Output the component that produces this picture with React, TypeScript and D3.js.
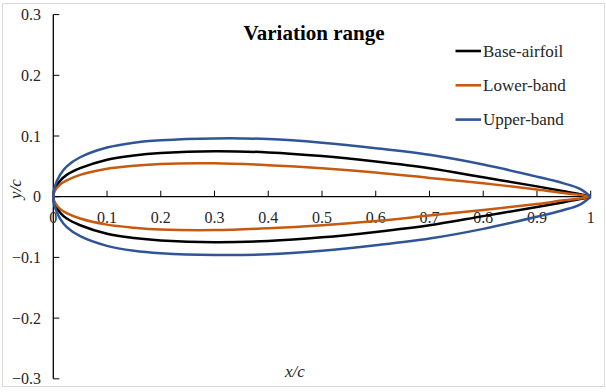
import React from "react";
import * as d3 from "d3";

const stations = [0, 0.0025, 0.0125, 0.025, 0.05, 0.1, 0.15, 0.2, 0.3, 0.4, 0.5, 0.6, 0.7, 0.8, 0.9, 0.95, 0.98, 1];
const baseHalf = [0, 0.012, 0.026, 0.036, 0.047, 0.061, 0.068, 0.072, 0.075, 0.073, 0.067, 0.058, 0.047, 0.032, 0.017, 0.009, 0.004, 0];
const lowerHalf = [0, 0.009, 0.02, 0.027, 0.036, 0.046, 0.051, 0.054, 0.055, 0.052, 0.047, 0.04, 0.031, 0.022, 0.012, 0.006, 0.003, 0];
const upperHalf = [0, 0.016, 0.036, 0.05, 0.065, 0.081, 0.089, 0.093, 0.096, 0.095, 0.089, 0.08, 0.069, 0.053, 0.033, 0.022, 0.013, 0];

const seriesNames = ["Base-airfoil", "Lower-band", "Upper-band"];
const seriesColors = ["#000000", "#C55A11", "#2F5597"];
const seriesData = [baseHalf, lowerHalf, upperHalf];

const xTicks = [0, 0.1, 0.2, 0.3, 0.4, 0.5, 0.6, 0.7, 0.8, 0.9, 1];
const yTicks = [-0.3, -0.2, -0.1, 0, 0.1, 0.2, 0.3];

const W = 606;
const H = 392;
const FONT = "Liberation Serif";
const tStyle = { fontFamily: FONT };

export default function App() {
  const x = d3.scaleLinear().domain([0, 1]).range([53.3, 590.7]);
  const y = d3.scaleLinear().domain([-0.3, 0.3]).range([378.8, 14.6]);

  const line = d3
    .line<[number, number]>()
    .x((d) => x(d[0]))
    .y((d) => y(d[1]))
    .curve(d3.curveCatmullRom.alpha(0.5));

  const closedPts = (half: number[]): [number, number][] => {
    const up: [number, number][] = stations.map((s, i) => [s, half[i]] as [number, number]).reverse();
    const lo: [number, number][] = stations.slice(1).map((s, i) => [s, -half[i + 1]] as [number, number]);
    return [...up, ...lo];
  };

  const fmt = (v: number) => (v === 0 ? "0" : d3.format("")(+v.toFixed(1)));
  const y0 = y(0);

  return (
    <svg width={W} height={H} style={{ position: "absolute", left: 0, top: 0, background: "#fff" }}>
      <rect x={2.5} y={3.5} width={602} height={383} fill="#fff" stroke="#d9d9d9" strokeWidth={1} />

      {/* axes */}
      <line x1={x(0)} x2={x(0)} y1={y(0.3)} y2={y(-0.3)} stroke="#000" strokeWidth={1.3} />
      <line x1={x(0)} x2={x(1)} y1={y0} y2={y0} stroke="#000" strokeWidth={1.3} />
      {yTicks.map((t) => (
        <g key={"yt" + t}>
          <line x1={x(0)} x2={x(0) + 6} y1={y(t)} y2={y(t)} stroke="#000" strokeWidth={1} />
          <text x={41} y={y(t)} dy="0.35em" textAnchor="end" fontSize={16} fill="#262626" style={tStyle}>
            {fmt(t)}
          </text>
        </g>
      ))}
      {xTicks.map((t) => (
        <g key={"xt" + t}>
          {t > 0 && <line x1={x(t)} x2={x(t)} y1={y0} y2={y0 - 6} stroke="#000" strokeWidth={1} />}
          <text x={x(t)} y={223} textAnchor="middle" fontSize={16} fill="#262626" style={tStyle}>
            {fmt(t)}
          </text>
        </g>
      ))}

      {/* series */}
      {seriesData.map((half, i) => (
        <path key={seriesNames[i]} d={line(closedPts(half)) || ""} fill="none" stroke={seriesColors[i]} strokeWidth={2.5} />
      ))}

      {/* axis titles */}
      <text x={295} y={377} textAnchor="middle" fontSize={17} fontStyle="italic" fill="#262626" style={tStyle}>
        x/c
      </text>
      <text transform={`translate(21,189) rotate(-90)`} textAnchor="middle" fontSize={17} fontStyle="italic" fill="#262626" style={tStyle}>
        y/c
      </text>

      {/* title */}
      <text x={314} y={40} textAnchor="middle" fontSize={21} fontWeight="bold" fill="#000" style={tStyle}>
        Variation range
      </text>

      {/* legend */}
      {seriesNames.map((n, i) => {
        const ly = 51 + i * 34.3;
        return (
          <g key={"lg" + n}>
            <line x1={455.5} x2={481} y1={ly} y2={ly} stroke={seriesColors[i]} strokeWidth={2.6} />
            <text x={483} y={ly + 5.8} fontSize={17} fill="#262626" style={tStyle}>
              {n}
            </text>
          </g>
        );
      })}
    </svg>
  );
}
